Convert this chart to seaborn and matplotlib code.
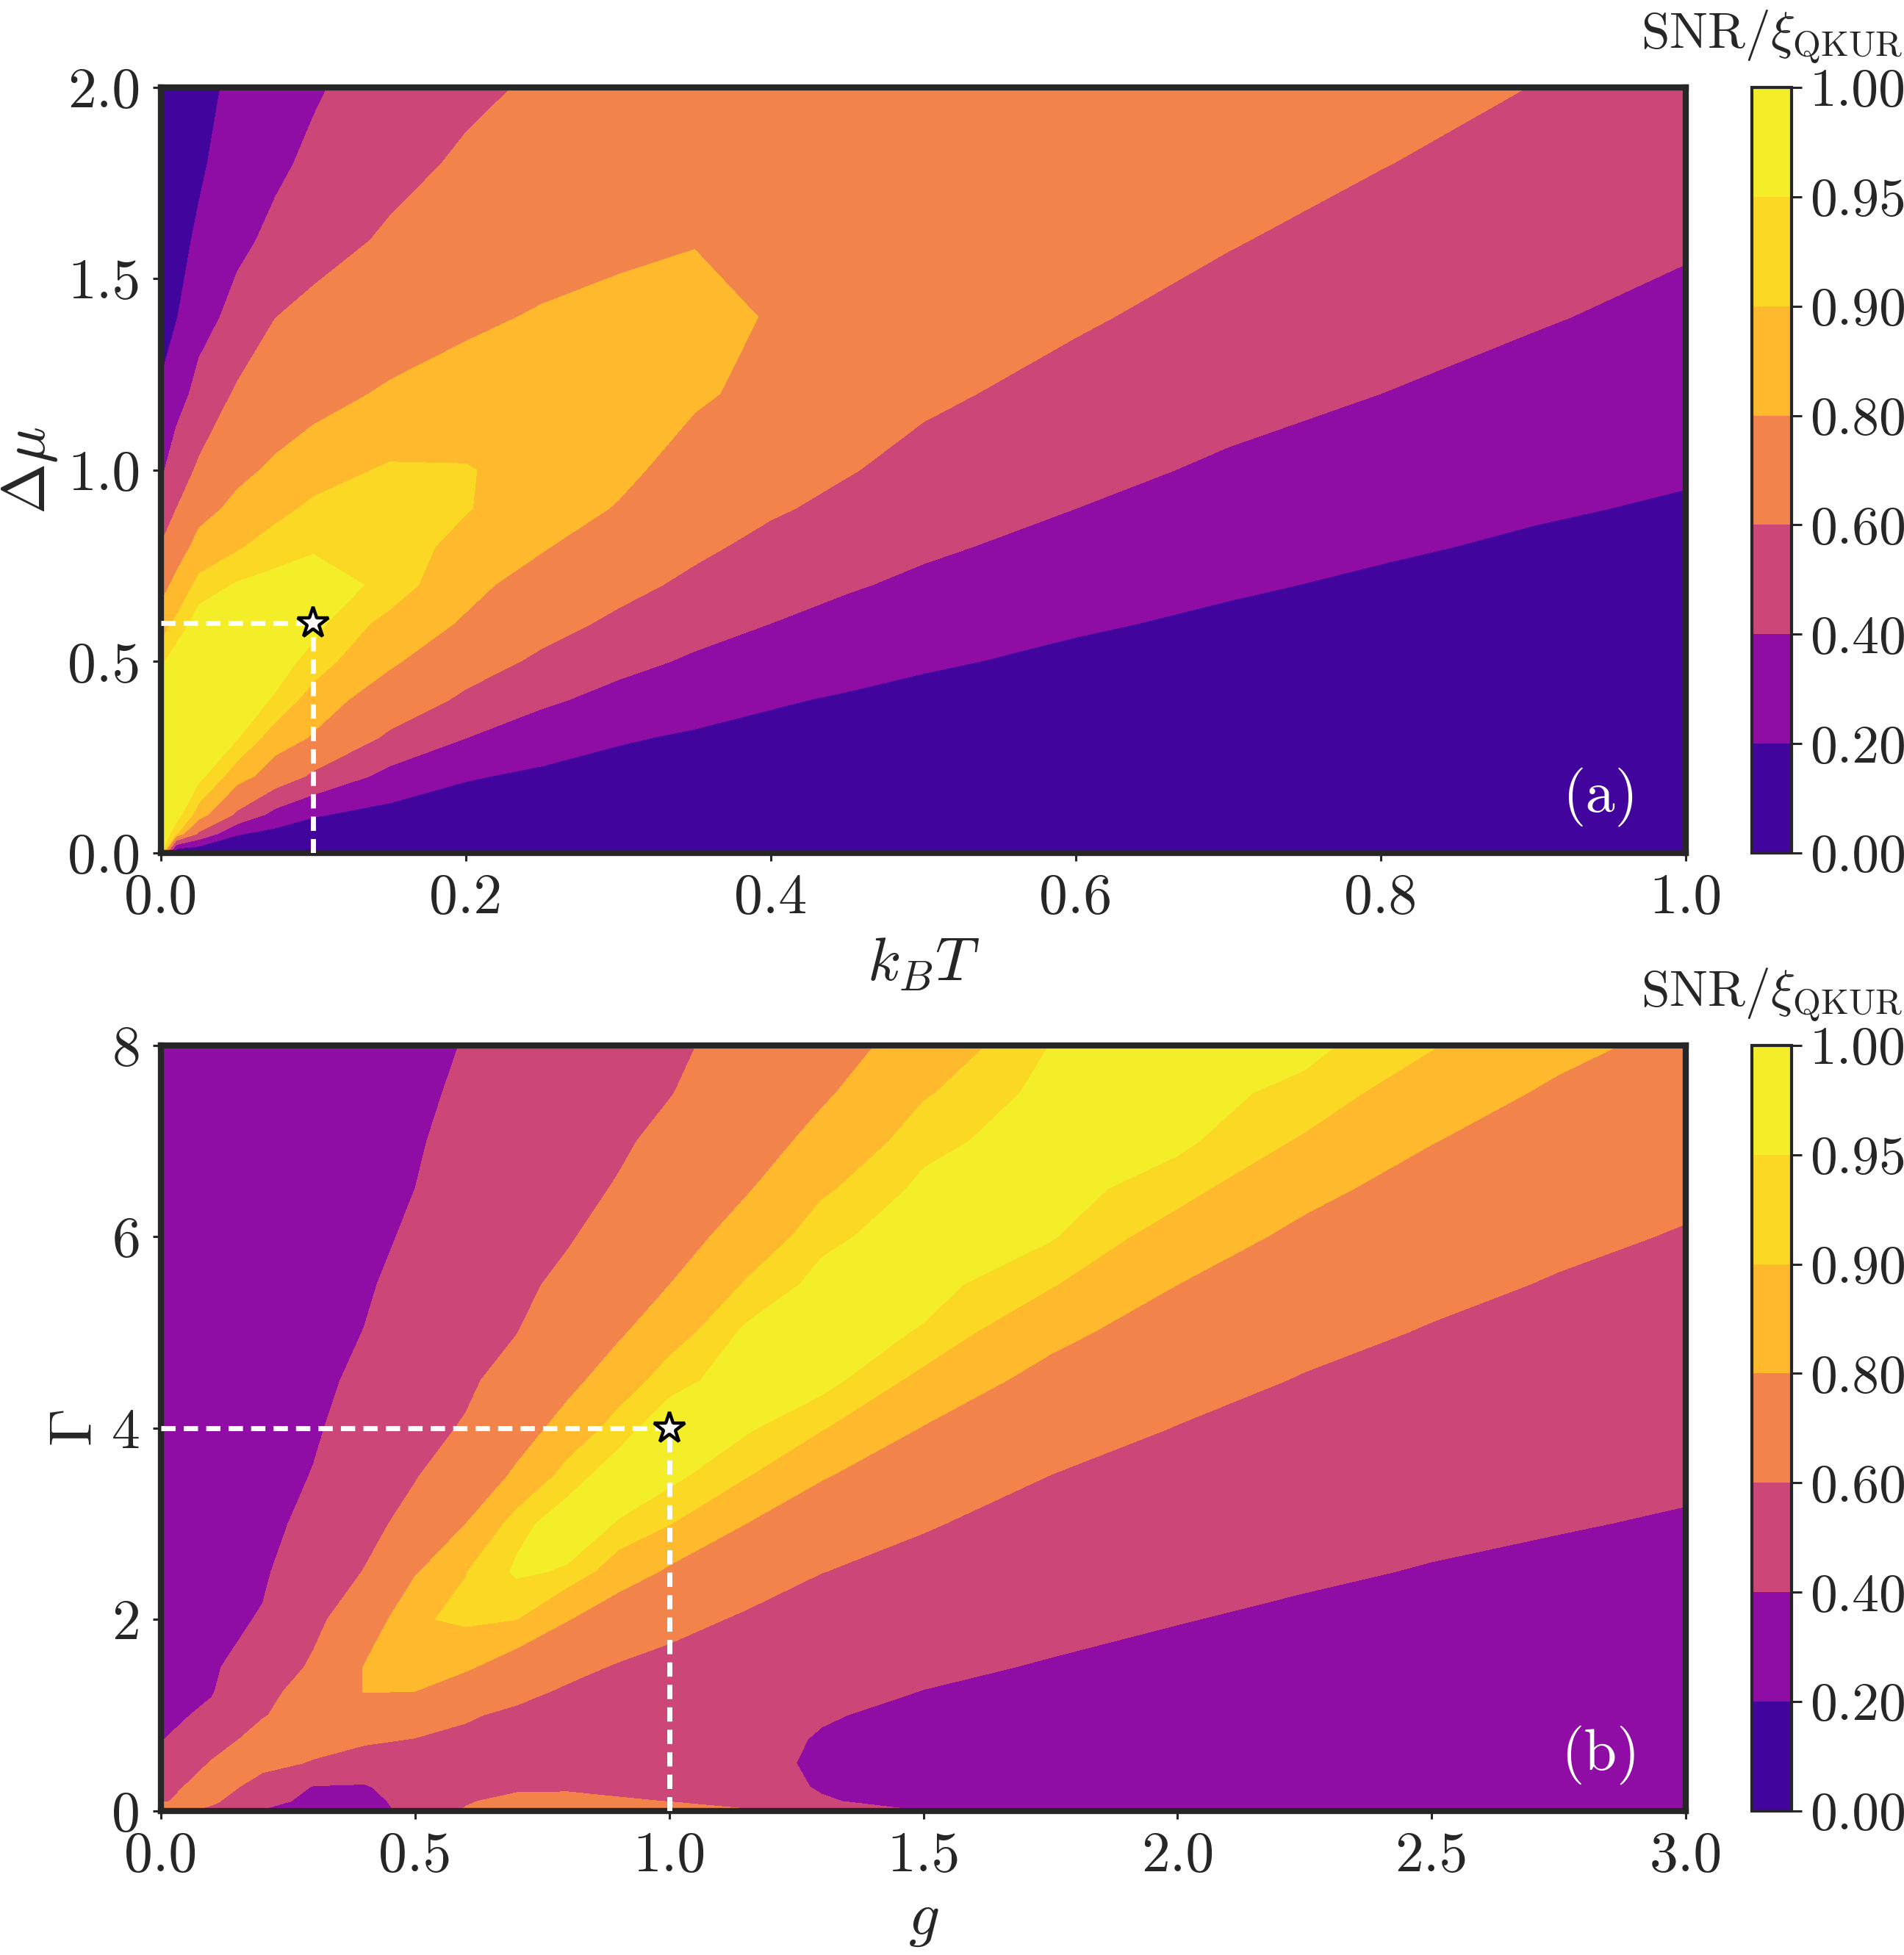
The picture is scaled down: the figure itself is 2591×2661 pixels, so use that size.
import numpy as np
import matplotlib
matplotlib.use("Agg")
import matplotlib.pyplot as plt
import seaborn as sns

kT_a = [0, 0.01, 0.025, 0.05, 0.075, 0.1, 0.15, 0.2, 0.25, 0.3, 0.35, 0.4, 0.45, 0.5, 0.6, 0.7, 0.8, 0.9, 1.0]
dmu_a = [0, 0.05, 0.1, 0.2, 0.3, 0.4, 0.5, 0.6, 0.7, 0.8, 0.9, 1.0, 1.2, 1.4, 1.6, 1.8, 2.0]
# one list per k_B T column, bottom (dmu=0) to top (dmu=2)
snr_a = [
    [1.0, 1.0, 1.0, 0.998, 0.995, 0.99, 0.9375, 0.867, 0.748, 0.61, 0.478, 0.368, 0.213, 0.15, 0.11, 0.08, 0.06],
    [0, 0.914, 0.975, 0.985, 0.985, 0.98, 0.98, 0.915, 0.836, 0.73, 0.597, 0.499, 0.323, 0.19, 0.14, 0.10, 0.08],
    [0, 0.567, 0.87, 0.965, 0.98, 0.985, 0.985, 0.975, 0.923, 0.845, 0.753, 0.63, 0.458, 0.334, 0.231, 0.17, 0.13],
    [0, 0.215, 0.567, 0.865, 0.953, 0.975, 0.985, 0.985, 0.955, 0.892, 0.832, 0.767, 0.626, 0.454, 0.362, 0.308, 0.255],
    [0, 0.139, 0.338, 0.717, 0.867, 0.945, 0.97, 0.975, 0.965, 0.93, 0.879, 0.823, 0.711, 0.598, 0.439, 0.37, 0.333],
    [0, 0.104, 0.215, 0.567, 0.786, 0.87, 0.934, 0.965, 0.97, 0.945, 0.914, 0.868, 0.753, 0.644, 0.537, 0.433, 0.38],
    [0, 0.069, 0.139, 0.338, 0.567, 0.717, 0.822, 0.878, 0.94, 0.94, 0.925, 0.91, 0.817, 0.72, 0.622, 0.552, 0.49],
    [0, 0.052, 0.104, 0.215, 0.40, 0.567, 0.682, 0.786, 0.834, 0.873, 0.905, 0.905, 0.845, 0.779, 0.70, 0.623, 0.567],
    [0, 0.042, 0.083, 0.167, 0.289, 0.433, 0.567, 0.662, 0.744, 0.81, 0.85, 0.87, 0.865, 0.81, 0.751, 0.687, 0.622],
    [0, 0.035, 0.069, 0.139, 0.215, 0.338, 0.456, 0.567, 0.65, 0.721, 0.793, 0.825, 0.84, 0.825, 0.78, 0.745, 0.70],
    [0, 0.03, 0.06, 0.119, 0.179, 0.268, 0.374, 0.47, 0.564, 0.633, 0.687, 0.755, 0.815, 0.815, 0.798, 0.765, 0.73],
    [0, 0.026, 0.052, 0.104, 0.156, 0.215, 0.307, 0.40, 0.477, 0.554, 0.62, 0.68, 0.77, 0.797, 0.793, 0.775, 0.755],
    [0, 0.023, 0.046, 0.093, 0.139, 0.185, 0.256, 0.338, 0.418, 0.488, 0.558, 0.61, 0.70, 0.745, 0.76, 0.762, 0.755],
    [0, 0.021, 0.042, 0.083, 0.125, 0.167, 0.215, 0.289, 0.363, 0.43, 0.49, 0.549, 0.63, 0.69, 0.725, 0.745, 0.755],
    [0, 0.017, 0.035, 0.069, 0.104, 0.139, 0.174, 0.215, 0.276, 0.338, 0.40, 0.448, 0.545, 0.62, 0.67, 0.70, 0.72],
    [0, 0.0149, 0.0298, 0.0595, 0.089, 0.119, 0.149, 0.179, 0.215, 0.268, 0.321, 0.374, 0.46, 0.54, 0.61, 0.645, 0.68],
    [0, 0.013, 0.026, 0.052, 0.078, 0.104, 0.13, 0.156, 0.182, 0.215, 0.261, 0.307, 0.40, 0.468, 0.537, 0.605, 0.645],
    [0, 0.0115, 0.023, 0.046, 0.069, 0.092, 0.115, 0.138, 0.161, 0.184, 0.213, 0.255, 0.338, 0.415, 0.477, 0.538, 0.598],
    [0, 0.0104, 0.021, 0.041, 0.062, 0.083, 0.104, 0.124, 0.145, 0.166, 0.187, 0.213, 0.284, 0.355, 0.42, 0.475, 0.531],
]

# ---- panel (b): SNR/xi_QKUR on a grid of (g, Gamma) ----
g_b = [0, 0.1, 0.2, 0.3, 0.4, 0.5, 0.6, 0.7, 0.8, 0.9, 1.0, 1.15, 1.3, 1.5, 1.75, 2.0, 2.25, 2.5, 2.75, 3.0]
gamma_b = [0, 0.1, 0.25, 0.5, 0.75, 1.0, 1.25, 1.5, 2.0, 2.5, 3.0, 3.5, 4.0, 4.5, 5.0, 5.5, 6.0, 6.5, 7.0, 7.5, 8.0]
snr_b = [
    [0.66, 0.594, 0.545, 0.465, 0.39, 0.36, 0.35, 0.345, 0.335, 0.325, 0.318, 0.31, 0.30, 0.295, 0.29, 0.285, 0.28, 0.275, 0.27, 0.265, 0.26],
    [0.56, 0.63, 0.67, 0.61, 0.535, 0.43, 0.39, 0.38, 0.36, 0.345, 0.335, 0.325, 0.315, 0.308, 0.30, 0.295, 0.29, 0.285, 0.28, 0.275, 0.27],
    [0.39, 0.45, 0.54, 0.64, 0.655, 0.59, 0.552, 0.49, 0.41, 0.38, 0.36, 0.35, 0.34, 0.332, 0.325, 0.318, 0.31, 0.305, 0.30, 0.295, 0.29],
    [0.34, 0.36, 0.39, 0.59, 0.65, 0.68, 0.67, 0.625, 0.555, 0.50, 0.44, 0.405, 0.385, 0.372, 0.36, 0.352, 0.345, 0.338, 0.33, 0.325, 0.32],
    [0.33, 0.35, 0.385, 0.514, 0.63, 0.72, 0.805, 0.805, 0.72, 0.605, 0.545, 0.51, 0.455, 0.425, 0.402, 0.385, 0.37, 0.36, 0.35, 0.345, 0.34],
    [0.45, 0.46, 0.48, 0.535, 0.595, 0.70, 0.80, 0.855, 0.89, 0.79, 0.66, 0.59, 0.555, 0.52, 0.48, 0.445, 0.418, 0.40, 0.385, 0.377, 0.37],
    [0.62, 0.58, 0.56, 0.565, 0.57, 0.615, 0.727, 0.815, 0.915, 0.898, 0.80, 0.71, 0.612, 0.575, 0.555, 0.527, 0.50, 0.475, 0.45, 0.42, 0.405],
    [0.75, 0.67, 0.555, 0.545, 0.555, 0.57, 0.641, 0.733, 0.90, 0.958, 0.935, 0.82, 0.745, 0.66, 0.597, 0.563, 0.53, 0.505, 0.48, 0.46, 0.44],
    [0.81, 0.66, 0.57, 0.535, 0.54, 0.555, 0.58, 0.643, 0.805, 0.945, 0.975, 0.93, 0.843, 0.768, 0.703, 0.639, 0.585, 0.55, 0.52, 0.50, 0.48],
    [0.805, 0.635, 0.52, 0.515, 0.52, 0.535, 0.555, 0.585, 0.72, 0.86, 0.947, 0.975, 0.93, 0.857, 0.785, 0.727, 0.669, 0.612, 0.575, 0.55, 0.53],
    [0.72, 0.595, 0.53, 0.505, 0.51, 0.52, 0.535, 0.55, 0.651, 0.784, 0.903, 0.965, 0.98, 0.9325, 0.867, 0.799, 0.747, 0.696, 0.644, 0.593, 0.57],
    [0.63, 0.50, 0.455, 0.44, 0.445, 0.46, 0.48, 0.51, 0.58, 0.682, 0.80, 0.905, 0.958, 0.975, 0.96, 0.906, 0.846, 0.79, 0.745, 0.70, 0.655],
    [0.50, 0.41, 0.39, 0.38, 0.39, 0.41, 0.44, 0.47, 0.535, 0.602, 0.707, 0.81, 0.905, 0.97, 0.98, 0.968, 0.936, 0.889, 0.833, 0.785, 0.746],
    [0.40, 0.36, 0.345, 0.34, 0.35, 0.37, 0.398, 0.425, 0.49, 0.555, 0.611, 0.703, 0.795, 0.881, 0.945, 0.97, 0.98, 0.962, 0.934, 0.893, 0.85],
    [0.30, 0.30, 0.305, 0.315, 0.33, 0.35, 0.37, 0.39, 0.439, 0.492, 0.546, 0.598, 0.678, 0.758, 0.835, 0.906, 0.955, 0.972, 0.978, 0.968, 0.951],
    [0.27, 0.27, 0.275, 0.285, 0.30, 0.32, 0.34, 0.36, 0.405, 0.454, 0.50, 0.548, 0.595, 0.662, 0.731, 0.80, 0.867, 0.923, 0.962, 0.97, 0.975],
    [0.25, 0.25, 0.255, 0.265, 0.275, 0.29, 0.31, 0.33, 0.375, 0.42, 0.462, 0.505, 0.548, 0.59, 0.648, 0.71, 0.772, 0.832, 0.892, 0.936, 0.965],
    [0.24, 0.24, 0.243, 0.25, 0.26, 0.273, 0.29, 0.31, 0.35, 0.392, 0.431, 0.471, 0.51, 0.55, 0.589, 0.64, 0.694, 0.749, 0.804, 0.857, 0.905],
    [0.23, 0.23, 0.233, 0.24, 0.25, 0.26, 0.275, 0.29, 0.33, 0.372, 0.408, 0.444, 0.48, 0.516, 0.552, 0.588, 0.633, 0.683, 0.732, 0.781, 0.83],
    [0.22, 0.22, 0.223, 0.23, 0.24, 0.25, 0.262, 0.275, 0.31, 0.35, 0.388, 0.421, 0.455, 0.488, 0.522, 0.555, 0.589, 0.63, 0.676, 0.721, 0.767],
]

levels = [0, 0.2, 0.4, 0.6, 0.8, 0.9, 0.95, 1.0]
star_a = (0.1, 0.6)
star_b = (1.0, 4.0)

sns.set_style("ticks")
plt.rcParams.update({
    "font.family": "serif",
    "font.serif": ["cmr10"],
    "mathtext.fontset": "cm",
    "axes.unicode_minus": False,
    "axes.formatter.use_mathtext": True,
})
FS = 28
cmap = sns.color_palette("plasma", as_cmap=True)

fig = plt.figure(figsize=(2591 / 200, 2661 / 200), dpi=200)
ax_a = fig.add_axes([0.0845, 0.5637, 0.8009, 0.3916])
cax_a = fig.add_axes([0.9201, 0.5637, 0.0208, 0.3916])
ax_b = fig.add_axes([0.0845, 0.0737, 0.8009, 0.3916])
cax_b = fig.add_axes([0.9201, 0.0737, 0.0208, 0.3916])


def draw_panel(ax, cax, x, y, cols, star, xticks, xfmt, yticks, yfmt, xlabel, ylabel, tag):
    z = np.array(cols).T
    cs = ax.contourf(x, y, z, levels=levels, cmap=cmap)
    dash = (0, (2.8, 1.6))
    ax.plot([x[0], star[0]], [star[1], star[1]], color="white", lw=2.5, ls=dash, zorder=3)
    ax.plot([star[0], star[0]], [y[0], star[1]], color="white", lw=2.5, ls=dash, zorder=3)
    ax.plot(star[0], star[1], marker="*", ms=16, mfc="white", mec="black", mew=1.6, zorder=4)
    ax.set_xlim(x[0], x[-1])
    ax.set_ylim(y[0], y[-1])
    ax.set_xticks(xticks)
    ax.set_xticklabels([xfmt.format(t) for t in xticks])
    ax.set_yticks(yticks)
    ax.set_yticklabels([yfmt.format(t) for t in yticks])
    ax.tick_params(labelsize=FS, length=4, width=1.1, pad=6)
    ax.set_xlabel(xlabel, fontsize=FS + 2, labelpad=6)
    ax.set_ylabel(ylabel, fontsize=FS + 2, labelpad=4)
    for s in ax.spines.values():
        s.set_linewidth(3)
    ax.text(0.944, 0.073, tag, transform=ax.transAxes, color="white",
            fontsize=FS + 1, ha="center", va="center")

    cb = fig.colorbar(cs, cax=cax)
    cb.set_ticks(levels)
    cb.set_ticklabels(["{:.2f}".format(v) for v in levels])
    cb.outline.set_linewidth(1.5)
    cax.tick_params(labelsize=FS - 1.5, length=5, width=1.1, pad=4)
    cax.set_title(r"$\mathrm{SNR}/\xi_{\mathrm{QKUR}}$", fontsize=25, pad=19)


draw_panel(ax_a, cax_a, kT_a, dmu_a, snr_a, star_a,
           [0, 0.2, 0.4, 0.6, 0.8, 1.0], "{:.1f}",
           [0, 0.5, 1.0, 1.5, 2.0], "{:.1f}",
           r"$k_BT$", r"$\Delta\mu$", "(a)")
draw_panel(ax_b, cax_b, g_b, gamma_b, snr_b, star_b,
           [0, 0.5, 1.0, 1.5, 2.0, 2.5, 3.0], "{:.1f}",
           [0, 2, 4, 6, 8], "{:d}",
           r"$g$", r"$\Gamma$", "(b)")

fig.savefig("out.png", dpi=200)
